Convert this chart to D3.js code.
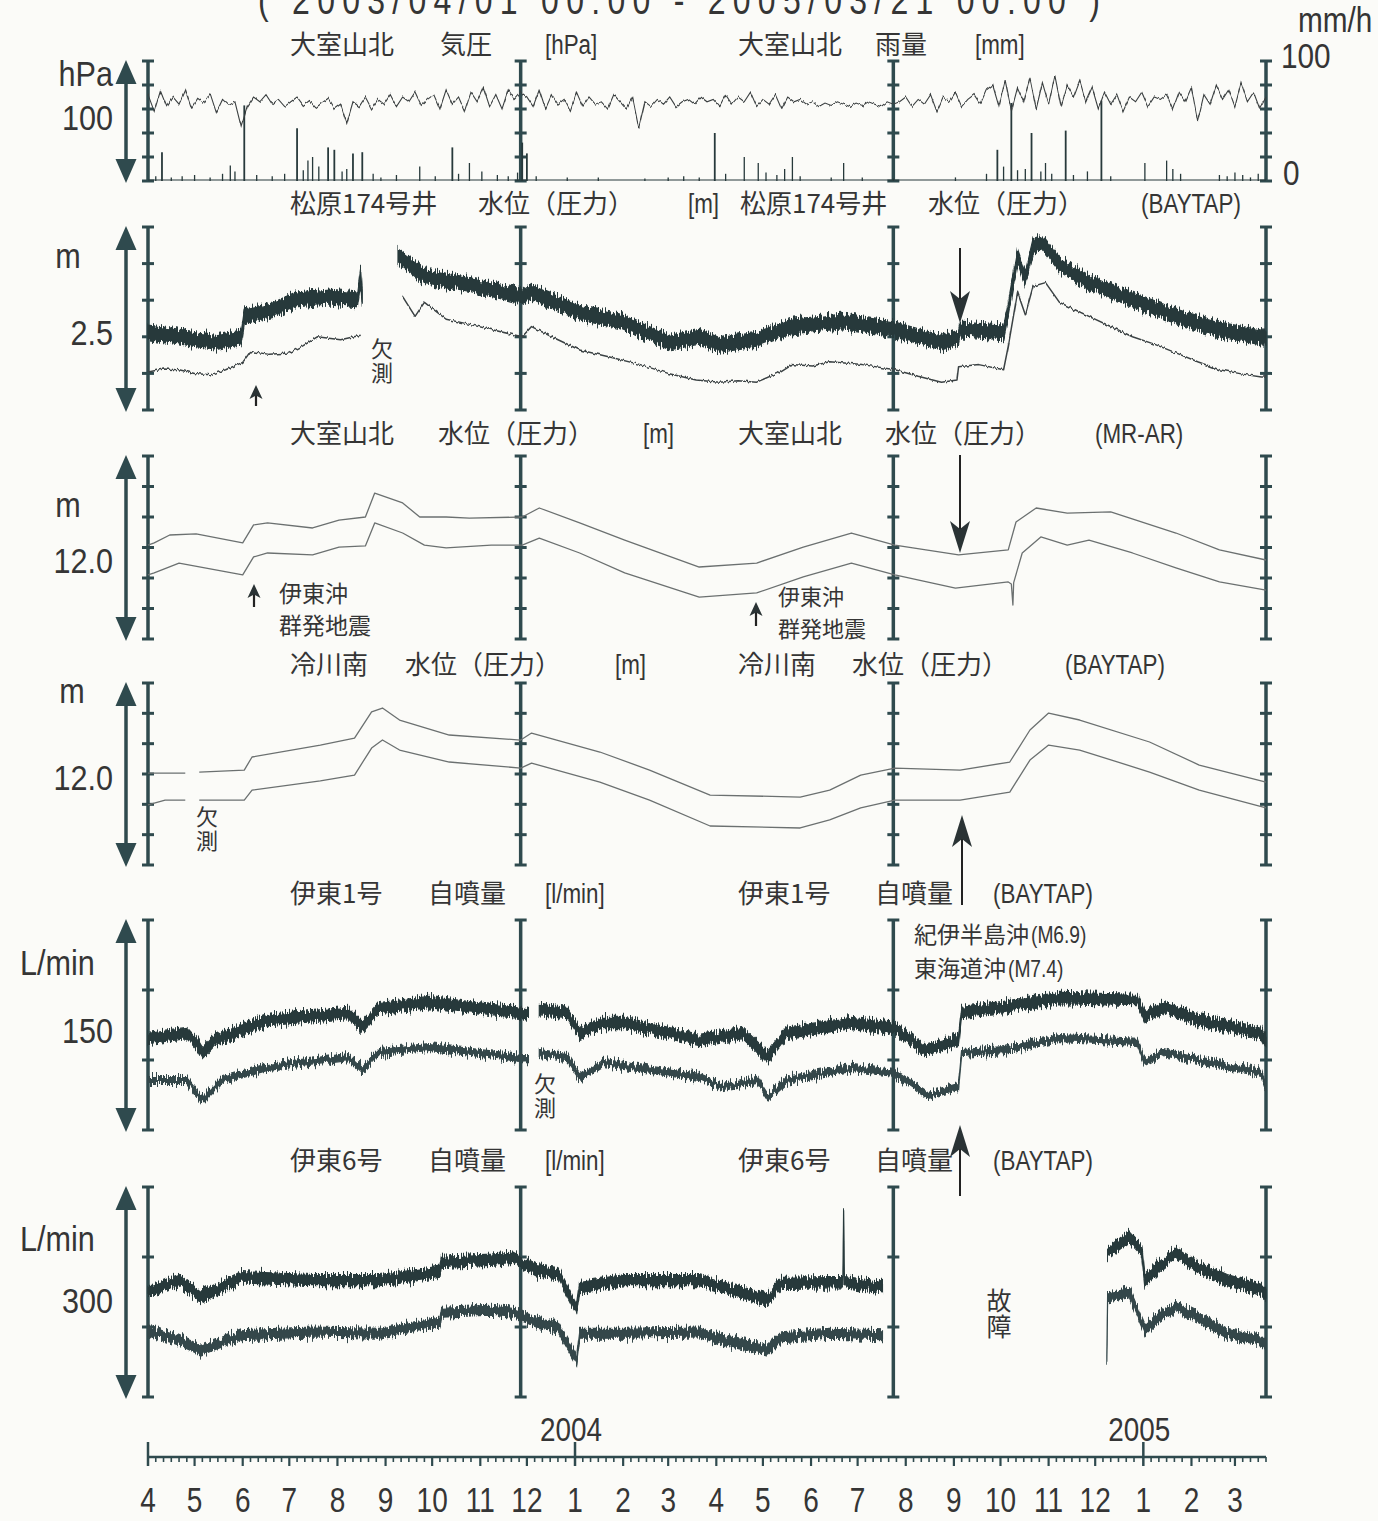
<!DOCTYPE html>
<html><head><meta charset="utf-8">
<script src="https://cdn.jsdelivr.net/npm/d3@7"></script>
<style>
body{margin:0;background:#fbfbf8;}
svg{display:block;}
</style></head><body>
<svg id="c" width="1378" height="1521"></svg>
<script>
// ---------------- DATA (time in days since 2003-04-01, values in panel units) ----------------
const startDate = "2003-04-01", endDate = "2005-03-21";
const titleText = "( 2003/04/01 00:00  -  2005/03/21 00:00 )";
const frameDays = [0, 240, 480, 720];
const unitLabels = ["hPa", "m", "m", "m", "L/min", "L/min"];
const scaleLabels = ["100", "2.5", "12.0", "12.0", "150", "300"];
const fullScales = [100, 2.5, 12, 12, 150, 300];
const tickSteps = [20, 0.5, 2, 2, 50, 100];
const rainAxisLabels = ["mm/h", "100", "0"];

// 大室山北 気圧 (every 4 days)
const pressureStepDays = 4;
const pressure = [
 72,58,75,62,70,64,76,60,69,65,73,57,68,63,66,45,
 62,70,66,72,64,68,62,66,70,63,67,61,65,69,60,
 64,48,66,62,70,60,68,64,72,62,70,66,74,63,68,
 72,60,76,64,70,58,74,66,78,62,72,60,76,68,74,
 70,62,76,60,72,64,68,58,74,62,70,64,66,60,72,
 66,60,70,44,66,62,68,64,70,62,66,68,64,70,66,
 68,62,72,64,70,66,74,62,68,64,72,60,70,66,68,
 64,66,62,65,63,66,64,62,65,63,66,64,62,66,64,
 66,70,62,68,64,72,58,70,66,74,62,68,72,64,76,
 80,62,84,58,78,66,86,60,82,64,88,62,80,70,84,
 66,78,60,74,64,72,58,70,66,74,62,70,68,72,60,
 74,66,78,50,72,64,80,68,76,62,82,66,74,60,70
];
// 大室山北 雨量 [day, mm/h]
const rain = [
 [5,4],[9,24],[15,3],[22,4],[30,5],[40,3],[48,6],[53,13],[56,8],[62,63],[70,5],[80,4],[88,6],
 [96,44],[100,9],[103,17],[106,20],[110,12],[116,28],[120,26],[125,8],[128,10],[132,23],[138,24],
 [145,6],[150,3],[160,5],[175,12],[185,4],[196,28],[200,6],[207,15],[215,8],[225,5],[232,4],
 [238,7],[241,32],[244,23],[250,4],[270,3],[290,3],[320,2],[335,3],[345,4],[355,3],[365,40],
 [372,6],[384,20],[393,15],[398,7],[405,5],[410,10],[415,20],[420,4],[440,3],[448,15],[460,3],
 [480,2],[520,3],[540,6],[547,26],[551,12],[556,65],[560,9],[565,10],[569,40],[575,8],[578,15],
 [582,6],[591,42],[596,5],[605,8],[614,67],[620,4],[642,15],[656,17],[660,10],[665,6],[690,5],
 [695,4],[700,7],[705,5],[710,3],[715,6]
];
// 松原174号井 水位 [m] raw (thick) and BAYTAP (thin)
const matsubaraRaw = [
 [0,1.06],[15,1.02],[33,0.96],[45,0.93],[60,0.99],[62,1.28],[80,1.36],[95,1.51],[117,1.55],[135,1.51],
 [137,1.83],[138,1.51],[139,null],[161,2.10],[178,1.83],[194,1.76],[221,1.65],[241,1.55],[246,1.61],
 [278,1.33],[304,1.21],[336,0.92],[355,1.00],[368,0.89],[392,0.96],[414,1.14],[448,1.21],[481,1.10],
 [511,0.92],[522,0.99],[523,1.10],[551,1.06],[554,1.37],[560,2.10],[565,1.79],[570,2.24],[576,2.29],
 [587,1.99],[606,1.74],[634,1.51],[662,1.28],[690,1.10],[717,0.99],[720,0.99]
];
const matsubaraBaytap = [
 [0,0.52],[10,0.56],[20,0.55],[30,0.50],[40,0.48],[50,0.55],[61,0.65],[66,0.80],[78,0.76],[91,0.78],
 [100,0.88],[109,1.00],[124,0.96],[137,1.02],[138,null],
 [164,1.55],[172,1.28],[178,1.47],[192,1.24],[205,1.18],[221,1.10],[241,1.00],[247,1.14],[262,0.98],[278,0.82],
 [298,0.72],[317,0.62],[335,0.50],[353,0.41],[368,0.38],[380,0.40],[392,0.38],[405,0.50],[414,0.62],[428,0.60],
 [439,0.66],[460,0.62],[481,0.55],[496,0.46],[511,0.38],[521,0.41],[522,0.59],[535,0.62],
 [551,0.55],[554,0.87],[560,1.61],[565,1.30],[570,1.69],[578,1.74],[587,1.47],[596,1.38],[606,1.28],[620,1.14],[634,1.00],
 [648,0.90],[662,0.78],[676,0.66],[690,0.55],[705,0.49],[717,0.45],[720,0.45]
];
// 大室山北 水位 [m] raw and MR-AR
const omuroRaw = [
 [0,6.16],[4,6.30],[14,6.82],[31,6.89],[61,6.30],[68,7.48],[77,7.61],[106,7.28],[123,7.80],[140,8.00],
 [146,9.57],[164,8.92],[175,8.00],[192,8.00],[207,7.93],[241,8.00],[252,8.59],[278,7.61],[307,6.49],
 [355,4.72],[392,4.98],[422,6.03],[453,6.95],[481,6.16],[522,5.51],[554,5.84],[559,7.67],[572,8.59],
 [592,8.26],[620,8.33],[662,6.95],[690,5.84],[720,5.18]
];
const omuroMrar = [
 [0,4.20],[4,4.33],[20,4.98],[61,4.20],[68,5.38],[77,5.64],[106,5.51],[123,6.03],[140,6.10],[146,7.61],
 [164,6.95],[178,6.16],[192,5.97],[221,6.16],[241,6.16],[252,6.62],[278,5.64],[307,4.33],[355,2.75],
 [392,3.02],[422,4.07],[453,4.98],[481,4.20],[520,3.34],[554,3.74],[556,3.61],[557,2.23],[557.5,3.70],
 [563,5.64],[575,6.69],[592,6.16],[606,6.49],[634,5.64],[662,4.66],[690,3.74],[720,3.21]
];
// 冷川南 水位 [m] raw and BAYTAP
const hiekawaRaw = [
 [0,6.06],[24,6.06],[25,null],[33,6.13],[62,6.26],[67,7.12],[111,7.91],[133,8.37],[144,10.09],[151,10.35],
 [162,9.56],[194,8.57],[240,8.24],[247,8.70],[291,7.45],[323,6.26],[362,4.61],[420,4.48],[439,4.94],
 [459,5.93],[481,6.39],[523,6.26],[555,6.79],[568,8.90],[580,10.02],[600,9.56],[645,8.11],[677,6.59],[720,5.47]
];
const hiekawaBaytap = [
 [0,3.96],[11,4.28],[24,4.28],[25,null],[33,4.28],[62,4.28],[67,4.94],[111,5.54],[133,5.93],[144,7.71],
 [151,8.24],[162,7.58],[194,6.79],[240,6.39],[247,6.72],[291,5.47],[323,4.28],[362,2.57],[420,2.44],
 [439,2.97],[459,3.76],[481,4.28],[523,4.28],[555,4.81],[568,6.92],[580,7.91],[600,7.58],[645,6.13],
 [677,4.94],[720,3.76]
];
// 伊東1号 自噴量 [L/min] raw and BAYTAP
const ito1Raw = [
 [0,65.7],[25,69.3],[32,60.7],[35,55.0],[43,64.3],[77,78.6],[129,83.6],[138,73.6],[149,87.1],[181,91.4],
 [221,85.7],[241,83.6],[245,82.1],[246,null],[252,85.7],[270,83.6],[278,69.3],[293,76.4],[307,76.4],
 [355,64.3],[383,69.3],[399,52.1],[411,69.3],[453,76.4],[481,72.9],[500,57.1],[522,64.3],[524,84.3],
 [551,87.9],[587,94.3],[637,92.9],[642,80.7],[654,87.9],[676,78.6],[717,69.3],[720,62.9]
];
const ito1Baytap = [
 [0,35.7],[25,35.7],[35,21.4],[48,35.7],[77,45.0],[129,52.1],[138,42.9],[149,55.7],[181,59.3],[241,51.4],
 [245,51.4],[246,null],[252,55.0],[270,52.1],[278,37.9],[293,47.9],[355,37.9],[370,30.7],[392,35.7],
 [399,23.6],[411,35.7],[453,44.3],[481,40.7],[502,25.0],[522,30.7],[524,55.0],[551,57.1],[587,65.7],
 [637,62.9],[642,48.6],[654,55.7],[676,50.0],[717,40.7],[720,30.7]
];
// 伊東6号 自噴量 [L/min] raw and BAYTAP (故障 gap)
const ito6Raw = [
 [0,153],[3,153],[20,167],[34,143],[60,171],[106,167],[149,167],[164,171],[188,179],[189,193],[221,196],
 [235,199],[250,181],[264,177],[276,124],[278,157],[307,167],[355,167],[370,157],[399,139],[408,163],
 [439,164],[447.5,164],[448,263],[448.5,164],[473,157],[474,null],[618,206],[632,229],[640,210],[642,167],
 [651,186],[662,206],[676,186],[695,167],[717,153],[720,146]
];
const ito6Baytap = [
 [0,96],[20,81],[34,67],[60,89],[106,93],[149,91],[188,107],[189,121],[221,124],[235,121],[250,107],
 [264,100],[276,53],[278,91],[307,91],[355,93],[370,81],[399,67],[408,86],[439,91],[473,89],[474,null],
 [617.5,53],[618,143],[632,149],[642,96],[651,114],[662,129],[676,114],[695,91],[717,81],[720,74]
];
const monthTickDaysMinor = [6, 11, 16, 21, 26];

// ---------------- DRAWING ----------------
const svg = d3.select("#c");
const W = 1378;
const AX = "#2f4a4e", INK = "#27393b", THIN = "#6b7070", TXT = "#353535";
const JP = "'Noto Sans CJK JP','Noto Sans',sans-serif";
const LAT = "'Liberation Sans','Arial',sans-serif";
const SX = 0.8;

svg.append("rect").attr("width", W).attr("height", 1521).attr("fill", "#fbfbf8");

function latText(g, xx, yy, s, fs, anchor, sx) {
  return g.append("text").attr("transform", `translate(${xx},${yy}) scale(${sx || SX},1)`)
    .attr("text-anchor", anchor || "start").attr("font-family", LAT).attr("font-size", fs)
    .attr("fill", TXT).text(s);
}

const defs = svg.append("defs");
const flt = defs.append("filter").attr("id", "jag").attr("x", "-1%").attr("y", "-40%")
  .attr("width", "102%").attr("height", "180%").attr("color-interpolation-filters", "sRGB");
flt.append("feTurbulence").attr("type", "fractalNoise").attr("baseFrequency", "0.8 0.04")
  .attr("numOctaves", 2).attr("seed", 7).attr("result", "t");
flt.append("feColorMatrix").attr("in", "t").attr("type", "matrix")
  .attr("values", "0 0 0 0 0.5  0 1 0 0 0  0 0 1 0 0  0 0 0 0 1").attr("result", "t2");
flt.append("feDisplacementMap").attr("in", "SourceGraphic").attr("in2", "t2").attr("scale", 14)
  .attr("xChannelSelector", "R").attr("yChannelSelector", "G");
const flt2 = defs.append("filter").attr("id", "jag2").attr("x", "-1%").attr("y", "-40%")
  .attr("width", "102%").attr("height", "180%").attr("color-interpolation-filters", "sRGB");
flt2.append("feTurbulence").attr("type", "fractalNoise").attr("baseFrequency", "0.6 0.05")
  .attr("numOctaves", 1).attr("seed", 3).attr("result", "t");
flt2.append("feColorMatrix").attr("in", "t").attr("type", "matrix")
  .attr("values", "0 0 0 0 0.5  0 1 0 0 0  0 0 1 0 0  0 0 0 0 1").attr("result", "t2");
flt2.append("feDisplacementMap").attr("in", "SourceGraphic").attr("in2", "t2").attr("scale", 5)
  .attr("xChannelSelector", "R").attr("yChannelSelector", "G");

const t0 = new Date(startDate + "T00:00:00Z"), t1 = new Date(endDate + "T00:00:00Z");
const x = d3.scaleUtc().domain([t0, t1]).range([148, 1266]);
const dayToDate = d => new Date(t0.getTime() + d * 864e5);
const xd = d => x(dayToDate(d));

const panelBox = [[61, 181], [227, 410], [456, 639], [683, 865], [920, 1130], [1187, 1397]];
const ys = panelBox.map((b, i) => d3.scaleLinear().domain([0, fullScales[i]]).range([b[1], b[0]]));

// title (cut at top, as in the reference)
svg.append("text").attr("transform", `translate(258,14) scale(${SX},1)`).attr("font-family", LAT)
  .attr("font-size", 40).attr("fill", TXT).attr("textLength", 842 / SX).attr("lengthAdjust", "spacing")
  .text(titleText);

// panel frames
function arrowHead(g, cx, tipY, dir, w, h, col) {
  g.append("path").attr("d", `M${cx},${tipY} L${cx - w / 2},${tipY - dir * h} L${cx + w / 2},${tipY - dir * h} Z`)
    .attr("fill", col);
}
ys.forEach((y, i) => {
  const g = svg.append("g");
  const ticks = d3.range(0, fullScales[i] + tickSteps[i] / 2, tickSteps[i]);
  frameDays.forEach(fd => {
    const X = xd(fd);
    g.append("line").attr("x1", X).attr("x2", X).attr("y1", y(0)).attr("y2", y(fullScales[i]))
      .attr("stroke", AX).attr("stroke-width", 3.5);
    ticks.forEach(t => {
      g.append("line").attr("x1", X - 6).attr("x2", X + 6).attr("y1", y(t)).attr("y2", y(t))
        .attr("stroke", AX).attr("stroke-width", 3);
    });
  });
  const top = y(fullScales[i]) - 1, bot = y(0) + 2, ax = 126;
  g.append("line").attr("x1", ax).attr("x2", ax).attr("y1", top + 18).attr("y2", bot - 18)
    .attr("stroke", AX).attr("stroke-width", 3.5);
  arrowHead(g, ax, top, -1, 21, 24, AX);
  arrowHead(g, ax, bot, 1, 21, 24, AX);
});

// left labels
const unitPos = [[113, 86, "end"], [68, 268, "middle"], [68, 517, "middle"], [72, 703, "middle"], [20, 975, "start"], [20, 1251, "start"]];
const valPos = [130, 345, 573, 790, 1043, 1313];
unitLabels.forEach((u, i) => {
  latText(svg, unitPos[i][0], unitPos[i][1], u, 36, unitPos[i][2], 0.85);
  latText(svg, 113, valPos[i], scaleLabels[i], 36, "end", 0.85);
});
// right rain axis labels
[[1298, 32], [1281, 68], [1283, 185]].forEach((p, i) => {
  latText(svg, p[0], p[1], rainAxisLabels[i], 35, "start", 0.85);
});

// panel titles
const titleRows = [
  [54, [[290, "大室山北", JP], [440, "気圧", JP], [545, "[hPa]", LAT], [738, "大室山北", JP], [875, "雨量", JP], [975, "[mm]", LAT]]],
  [213, [[290, "松原174号井", JP], [478, "水位（圧力）", JP], [688, "[m]", LAT], [740, "松原174号井", JP], [928, "水位（圧力）", JP], [1141, "(BAYTAP)", LAT]]],
  [443, [[290, "大室山北", JP], [438, "水位（圧力）", JP], [643, "[m]", LAT], [738, "大室山北", JP], [885, "水位（圧力）", JP], [1095, "(MR-AR)", LAT]]],
  [674, [[290, "冷川南", JP], [405, "水位（圧力）", JP], [615, "[m]", LAT], [738, "冷川南", JP], [852, "水位（圧力）", JP], [1065, "(BAYTAP)", LAT]]],
  [903, [[290, "伊東1号", JP], [428, "自噴量", JP], [545, "[l/min]", LAT], [738, "伊東1号", JP], [875, "自噴量", JP], [993, "(BAYTAP)", LAT]]],
  [1170, [[290, "伊東6号", JP], [428, "自噴量", JP], [545, "[l/min]", LAT], [738, "伊東6号", JP], [875, "自噴量", JP], [993, "(BAYTAP)", LAT]]]
];
titleRows.forEach(([yy, segs]) => {
  segs.forEach(([xx, s, f]) => {
    if (f === JP) {
      svg.append("text").attr("x", xx).attr("y", yy).attr("font-family", JP)
        .attr("font-size", 26).attr("fill", TXT).text(s);
    } else {
      latText(svg, xx, yy, s, 28, "start", 0.8);
    }
  });
});

// ---- panel 1: rain bars + pressure line
const y1 = ys[0];
svg.append("line").attr("x1", xd(0)).attr("x2", xd(720)).attr("y1", y1(0) - 1).attr("y2", y1(0) - 1)
  .attr("stroke", INK).attr("stroke-width", 1.2);
svg.append("g").selectAll("line").data(rain).join("line")
  .attr("x1", d => xd(d[0])).attr("x2", d => xd(d[0])).attr("y1", y1(0)).attr("y2", d => y1(d[1]))
  .attr("stroke", INK).attr("stroke-width", d => d[1] > 20 ? 1.8 : 1.3);
svg.append("path").datum(pressure)
  .attr("d", d3.line().x((v, i) => xd(i * pressureStepDays)).y(v => y1(v)))
  .attr("fill", "none").attr("stroke", "#3a3f40").attr("stroke-width", 1.1).attr("filter", "url(#jag2)");

// helpers
function band(data, y, hw, col) {
  svg.append("path").datum(data)
    .attr("d", d3.area().defined(d => d[1] != null).x(d => xd(d[0]))
      .y0(d => y(d[1] - hw)).y1(d => y(d[1] + hw)).curve(d3.curveLinear))
    .attr("fill", col).attr("stroke", col).attr("stroke-width", 1.2).attr("filter", "url(#jag)");
}
function thin(data, y, col, w, jag) {
  const p = svg.append("path").datum(data)
    .attr("d", d3.line().defined(d => d[1] != null).x(d => xd(d[0])).y(d => y(d[1])))
    .attr("fill", "none").attr("stroke", col).attr("stroke-width", w).attr("stroke-linejoin", "round");
  if (jag) p.attr("filter", "url(#jag2)");
}
band(matsubaraRaw, ys[1], 0.1, INK);
thin(matsubaraBaytap, ys[1], "#3b4244", 1.5, true);
thin(omuroRaw, ys[2], THIN, 1.3);
thin(omuroMrar, ys[2], THIN, 1.3);
thin(hiekawaRaw, ys[3], THIN, 1.3);
thin(hiekawaBaytap, ys[3], THIN, 1.3);
band(ito1Raw, ys[4], 4, INK);
band(ito1Baytap, ys[4], 2.5, "#34474a");
band(ito6Raw, ys[5], 8, INK);
band(ito6Baytap, ys[5], 7, "#34474a");

// ---- annotations
function arrow(xx, yStart, yTip, w, h, sw) {
  const dir = yTip > yStart ? 1 : -1;
  svg.append("line").attr("x1", xx).attr("x2", xx).attr("y1", yStart).attr("y2", yTip - dir * h * 0.6)
    .attr("stroke", "#222").attr("stroke-width", sw);
  svg.append("path").attr("d", `M${xx},${yTip} L${xx - w / 2},${yTip - dir * h} L${xx},${yTip - dir * h * 0.75} L${xx + w / 2},${yTip - dir * h} Z`)
    .attr("fill", "#2a3335");
}
arrow(256, 406, 385, 13, 14, 2.2);
arrow(960, 248, 323, 20, 32, 2);
arrow(960, 455, 553, 20, 32, 2);
arrow(254, 607, 584, 13, 14, 2.2);
arrow(756, 626, 602, 13, 14, 2.2);
arrow(962, 905, 815, 20, 32, 2);
arrow(960, 1196, 1125, 20, 32, 2);

function jpText(xx, yy, s, fs, anchor) {
  return svg.append("text").attr("x", xx).attr("y", yy).attr("font-family", JP).attr("font-size", fs)
    .attr("text-anchor", anchor || "start").attr("fill", TXT).text(s);
}
jpText(279, 602, "伊東沖", 23); jpText(279, 634, "群発地震", 23);
jpText(778, 605, "伊東沖", 22); jpText(778, 637, "群発地震", 22);
// 欠測 / 故障 written vertically
function vText(xx, yTop, s, fs, gap) {
  svg.append("text").attr("x", xx).attr("y", yTop).attr("font-family", JP).attr("font-size", fs)
    .attr("writing-mode", "tb").attr("glyph-orientation-vertical", 0).attr("letter-spacing", gap)
    .attr("fill", TXT).text(s);
}
vText(382, 338, "欠測", 22, 2);
vText(207, 806, "欠測", 22, 2);
vText(545, 1073, "欠測", 22, 2);
vText(999, 1288, "故障", 25, 1);
// earthquake label
jpText(914, 943, "紀伊半島沖", 23);
latText(svg, 1031, 943, "(M6.9)", 24, "start", 0.8);
jpText(914, 977, "東海道沖", 23);
latText(svg, 1008, 977, "(M7.4)", 24, "start", 0.8);

// ---- bottom time axis
const axY = 1457;
const gA = svg.append("g");
gA.append("line").attr("x1", xd(0)).attr("x2", xd(720)).attr("y1", axY).attr("y2", axY)
  .attr("stroke", AX).attr("stroke-width", 2.5);
const months = d3.utcMonth.range(t0, new Date(t1.getTime() + 1));
months.forEach(m => {
  monthTickDaysMinor.forEach(dd => {
    const md = new Date(Date.UTC(m.getUTCFullYear(), m.getUTCMonth(), dd));
    if (md <= t1) gA.append("line").attr("x1", x(md)).attr("x2", x(md)).attr("y1", axY).attr("y2", axY + 5)
      .attr("stroke", AX).attr("stroke-width", 1.6);
  });
  const big = m.getUTCMonth() === 0 || +m === +t0;
  gA.append("line").attr("x1", x(m)).attr("x2", x(m)).attr("y1", big ? axY - 15 : axY).attr("y2", axY + 9)
    .attr("stroke", AX).attr("stroke-width", big ? 2.5 : 2.2);
  latText(gA, x(m), 1512, String(m.getUTCMonth() + 1), 35, "middle", 0.8);
  if (m.getUTCMonth() === 0) {
    latText(gA, x(m) - 4, 1441, String(m.getUTCFullYear()), 34, "middle", 0.82);
  }
});
</script></body></html>
